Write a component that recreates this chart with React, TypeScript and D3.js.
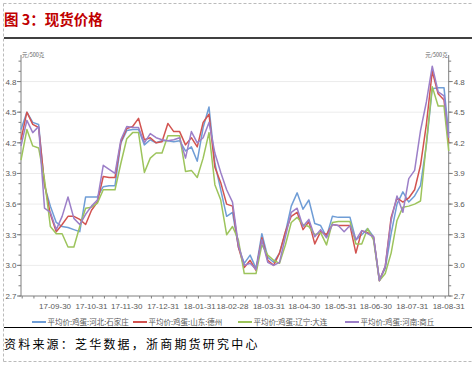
import React from 'react';
import * as d3 from 'd3';

// 采样日期（约每5天一个点）
const dates = [
  '2017-09-01', '2017-09-06', '2017-09-11', '2017-09-16', '2017-09-21', '2017-09-26',
  '2017-10-01', '2017-10-06', '2017-10-11', '2017-10-16', '2017-10-21', '2017-10-26', '2017-10-31',
  '2017-11-05', '2017-11-10', '2017-11-15', '2017-11-20', '2017-11-25', '2017-11-30',
  '2017-12-05', '2017-12-10', '2017-12-15', '2017-12-20', '2017-12-25', '2017-12-30',
  '2018-01-04', '2018-01-09', '2018-01-14', '2018-01-19', '2018-01-24', '2018-01-29',
  '2018-02-03', '2018-02-08', '2018-02-13', '2018-02-18', '2018-02-23', '2018-02-28',
  '2018-03-05', '2018-03-10', '2018-03-15', '2018-03-20', '2018-03-25', '2018-03-30',
  '2018-04-04', '2018-04-09', '2018-04-14', '2018-04-19', '2018-04-24', '2018-04-29',
  '2018-05-04', '2018-05-09', '2018-05-14', '2018-05-19', '2018-05-24', '2018-05-29',
  '2018-06-03', '2018-06-08', '2018-06-13', '2018-06-18', '2018-06-23', '2018-06-28',
  '2018-07-03', '2018-07-08', '2018-07-13', '2018-07-18', '2018-07-23', '2018-07-28',
  '2018-08-02', '2018-08-07', '2018-08-12', '2018-08-17', '2018-08-22', '2018-08-27', '2018-08-31',
];

const hebei = [
  4.33, 4.50, 4.40, 4.38, 3.78, 3.58, 3.42, 3.38, 3.37, 3.35, 3.33, 3.67, 3.67,
  3.67, 3.77, 3.78, 3.78, 4.20, 4.32, 4.33, 4.33, 4.18, 4.23, 4.20, 4.22,
  4.22, 4.21, 4.22, 4.12, 4.16, 4.02, 4.35, 4.55, 4.00, 3.74, 3.48, 3.52,
  3.18, 3.02, 3.10, 2.97, 3.31, 3.08, 3.03, 3.12, 3.32, 3.58, 3.71, 3.55,
  3.64, 3.41, 3.39, 3.28, 3.48, 3.47, 3.47, 3.47, 3.25, 3.30, 3.36, 3.28,
  2.86, 2.97, 3.31, 3.60, 3.72, 3.62, 3.68, 3.78, 4.18, 4.73, 4.74, 4.74, 4.28,
];

const shandong = [
  4.23, 4.50, 4.38, 4.35, 3.80, 3.50, 3.33, 3.40, 3.48, 3.48, 3.45, 3.40, 3.54,
  3.62, 3.87, 3.86, 3.86, 4.21, 4.34, 4.36, 4.44, 4.23, 4.25, 4.20, 4.21,
  4.39, 4.31, 4.31, 4.18, 4.25, 4.16, 4.40, 4.48, 3.96, 3.81, 3.60, 3.58,
  3.18, 2.98, 3.05, 2.95, 3.27, 3.05, 3.00, 3.12, 3.33, 3.48, 3.52, 3.35,
  3.43, 3.21, 3.33, 3.30, 3.40, 3.39, 3.39, 3.39, 3.12, 3.34, 3.32, 3.28,
  2.85, 2.99, 3.47, 3.66, 3.62, 3.66, 3.74, 3.98, 4.38, 4.90, 4.68, 4.62, 4.20,
];

const liaoning = [
  4.03, 4.33, 4.17, 4.15, 3.84, 3.38, 3.31, 3.31, 3.18, 3.18, 3.38, 3.56, 3.57,
  3.61, 3.74, 3.74, 3.74, 4.00, 4.24, 4.30, 4.30, 3.91, 4.05, 4.10, 4.10,
  4.27, 4.27, 4.27, 3.92, 3.93, 3.86, 4.05, 4.30, 3.79, 3.64, 3.30, 3.38,
  3.25, 2.92, 2.92, 2.92, 3.20, 3.10, 3.05, 3.02, 3.20, 3.42, 3.47, 3.40,
  3.38, 3.30, 3.32, 3.20, 3.42, 3.43, 3.43, 3.43, 3.21, 3.21, 3.36, 3.25,
  2.85, 2.92, 3.12, 3.44, 3.57, 3.58, 3.60, 3.63, 4.20, 4.75, 4.56, 4.56, 4.12,
];

const henan = [
  4.17, 4.42, 4.30, 4.36, 3.56, 3.52, 3.35, 3.48, 3.67, 3.46, 3.40, 3.50, 3.58,
  3.64, 3.98, 3.94, 3.90, 4.23, 4.36, 4.35, 4.35, 4.20, 4.29, 4.25, 4.23,
  4.22, 4.23, 4.25, 4.05, 4.31, 4.20, 4.25, 4.40, 4.10, 3.91, 3.74, 3.62,
  3.20, 3.00, 3.02, 2.96, 3.25, 3.03, 3.00, 3.03, 3.28, 3.52, 3.56, 3.38,
  3.45, 3.28, 3.35, 3.27, 3.40, 3.39, 3.33, 3.39, 3.25, 3.34, 3.31, 3.28,
  2.85, 2.99, 3.44, 3.68, 3.52, 3.85, 3.93, 4.32, 4.60, 4.95, 4.70, 4.66, 4.25,
];

const seriesNames = [
  '平均价:鸡蛋:河北:石家庄',
  '平均价:鸡蛋:山东:德州',
  '平均价:鸡蛋:辽宁:大连',
  '平均价:鸡蛋:河南:商丘',
];
const seriesColors = ['#6f9dd6', '#d25350', '#9dc45c', '#9c7fc8'];

const xTickDates = [
  '2017-09-30', '2017-10-31', '2017-11-30', '2017-12-31', '2018-01-31', '2018-02-28',
  '2018-03-31', '2018-04-30', '2018-05-31', '2018-06-30', '2018-07-31', '2018-08-31',
];
const yTicks = [2.7, 3.0, 3.3, 3.6, 3.9, 4.2, 4.5, 4.8];

const W = 472;
const H = 366;
const plot = { left: 21, right: 448.7, top: 55, bottom: 296 };
const numFont = '"Liberation Sans", Arial, sans-serif';
const cjkFont = '"Noto Sans CJK SC", sans-serif';

const parse = d3.timeParse('%Y-%m-%d');
const fmt = d3.timeFormat('%y-%m-%d');

export default function App() {
  const start = parse(dates[0]) as Date;
  const end = parse(dates[dates.length - 1]) as Date;
  const x = d3.scaleTime().domain([start, end]).range([plot.left, plot.right]);
  const y = d3.scaleLinear().domain([2.7, 5.06]).range([plot.bottom, plot.top]);

  const allSeries = [hebei, shandong, liaoning, henan];
  const line = d3
    .line<number>()
    .x((_, i) => x(parse(dates[i]) as Date))
    .y(d => y(d));

  const minorY = d3.range(27, 51).map(v => v / 10);
  const minorX = d3.range(1, 365, 10).map(d => d3.timeDay.offset(start, d));

  const legendX = [32, 133, 238, 345];

  return (
    <svg
      width={W}
      height={H}
      style={{ position: 'absolute', left: 0, top: 0, background: '#fff' }}
    >
      {/* 虚线边框 */}
      <line x1={3.5} y1={3.5} x2={W} y2={3.5} stroke="#bbb" strokeDasharray="3,2" />
      <line x1={3.5} y1={3.5} x2={3.5} y2={361.5} stroke="#bbb" strokeDasharray="3,2" />
      <line x1={3.5} y1={361.5} x2={W} y2={361.5} stroke="#bbb" strokeDasharray="3,2" />

      <text x={4} y={25} fill="#c00000" fontSize={14.5} fontWeight="bold" fontFamily={cjkFont}>
        图 3：现货价格
      </text>
      <line x1={4} y1={38} x2={W} y2={38} stroke="#000" strokeWidth={1.5} />

      {/* 网格线 */}
      {yTicks.slice(1).map(v => (
        <line key={v} x1={plot.left} x2={plot.right} y1={y(v)} y2={y(v)} stroke="#ececec" strokeWidth={1} />
      ))}

      {/* 左轴 */}
      <line x1={plot.left} x2={plot.left} y1={plot.top} y2={plot.bottom} stroke="#7f7f7f" />
      {minorY.map(v => (
        <line key={'l' + v} x1={plot.left - 2.5} x2={plot.left} y1={y(v)} y2={y(v)} stroke="#7f7f7f" />
      ))}
      {yTicks.map(v => (
        <g key={'ly' + v}>
          <line x1={plot.left - 4} x2={plot.left} y1={y(v)} y2={y(v)} stroke="#7f7f7f" />
          <text x={plot.left - 4.5} y={y(v) + 3} textAnchor="end" fontSize={8} fill="#595959" fontFamily={numFont}>
            {v.toFixed(1)}
          </text>
        </g>
      ))}
      <text x={plot.left + 1} y={57} fontSize={5.5} fill="#595959" fontFamily={cjkFont}>元/500克</text>

      {/* 右轴 */}
      <line x1={plot.right} x2={plot.right} y1={plot.top} y2={plot.bottom} stroke="#7f7f7f" />
      {minorY.map(v => (
        <line key={'r' + v} x1={plot.right} x2={plot.right + 2.5} y1={y(v)} y2={y(v)} stroke="#7f7f7f" />
      ))}
      {yTicks.map(v => (
        <g key={'ry' + v}>
          <line x1={plot.right} x2={plot.right + 4} y1={y(v)} y2={y(v)} stroke="#7f7f7f" />
          <text x={plot.right + 5} y={y(v) + 3} fontSize={8} fill="#595959" fontFamily={numFont}>
            {v.toFixed(1)}
          </text>
        </g>
      ))}
      <text x={plot.right - 1} y={57} textAnchor="end" fontSize={5.5} fill="#595959" fontFamily={cjkFont}>元/500克</text>

      {/* 底轴 */}
      <line x1={plot.left} x2={plot.right} y1={plot.bottom} y2={plot.bottom} stroke="#7f7f7f" />
      {minorX.map((d, i) => (
        <line key={'mx' + i} x1={x(d)} x2={x(d)} y1={plot.bottom} y2={plot.bottom + 2.5} stroke="#7f7f7f" />
      ))}
      {xTickDates.map(s => {
        const d = parse(s) as Date;
        return (
          <text key={s} x={x(d)} y={309} textAnchor="middle" fontSize={8} fill="#595959" fontFamily={numFont}>
            {fmt(d)}
          </text>
        );
      })}

      {/* 折线 */}
      {allSeries.map((s, i) => (
        <path key={i} d={line(s) || ''} fill="none" stroke={seriesColors[i]} strokeWidth={1.5} strokeLinejoin="round" />
      ))}

      {/* 图例 */}
      {seriesNames.map((n, i) => (
        <g key={n}>
          <line x1={legendX[i]} x2={legendX[i] + 14} y1={322} y2={322} stroke={seriesColors[i]} strokeWidth={2} />
          <text x={legendX[i] + 15.5} y={325} fontSize={7.5} fill="#595959" fontFamily={cjkFont}>{n}</text>
        </g>
      ))}

      <line x1={4} y1={327.5} x2={W} y2={327.5} stroke="#000" strokeWidth={1.2} />
      <text x={4} y={349} fontSize={12} letterSpacing={2.2} fill="#000" fontFamily={cjkFont}>
        资料来源：芝华数据，浙商期货研究中心
      </text>
    </svg>
  );
}
